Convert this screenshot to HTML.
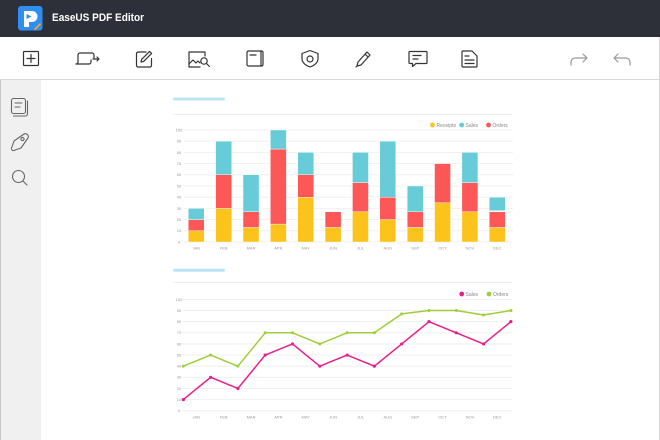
<!DOCTYPE html>
<html><head><meta charset="utf-8"><style>
html,body{margin:0;padding:0;width:660px;height:440px;overflow:hidden;background:#fff;}
svg{display:block;}
text{font-family:"Liberation Sans",sans-serif;}
</style></head><body>
<svg width="660" height="440" viewBox="0 0 660 440" xmlns="http://www.w3.org/2000/svg">
<!-- title bar -->
<rect x="0" y="0" width="660" height="37" fill="#2d3039"/>
<rect x="18" y="6" width="24.5" height="24.5" rx="3" fill="#2f8ef2"/>
<path d="M24 11 h8 a5.5 5.5 0 0 1 0 11 h-3 v5 h-5 z" fill="#fff"/>
<path d="M26.5 14 l5 2.5 l-5 2.5 z" fill="#2f8ef2"/>
<path d="M34 29 l6 -6 l1.2 1.2 l-6 6 z" fill="#f5a623"/>
<text x="52" y="21" font-size="11" font-weight="bold" fill="#fff" textLength="92" lengthAdjust="spacingAndGlyphs">EaseUS PDF Editor</text>
<!-- toolbar -->
<rect x="0" y="37" width="660" height="42" fill="#fff"/>
<line x1="0" y1="79.5" x2="660" y2="79.5" stroke="#d9d9d9" stroke-width="1"/>
<g fill="none" stroke="#333" stroke-width="1.2" stroke-linecap="round" stroke-linejoin="round">
 <rect x="23.5" y="51.5" width="15" height="14" rx="1"/>
 <path d="M31 54.5 v8 M27 58.5 h8"/>
 <path d="M80 53 h12 a2 2 0 0 1 2 2 v3 M80 53 a2 2 0 0 0 -2 2 v7 a2 2 0 0 1 -2 2 h13 a2 2 0 0 0 2 -2 v-2 M76 64 a2 2 0 0 0 2 -2"/>
 <path d="M93 59 h6 M97 57 l2 2 l-2 2"/>
 <path d="M146 52 h-8 a1.5 1.5 0 0 0 -1.5 1.5 v12 a1.5 1.5 0 0 0 1.5 1.5 h12 a1.5 1.5 0 0 0 1.5 -1.5 v-7"/>
 <path d="M141 62 l0.6 -2.6 l8 -8 l2 2 l-8 8 z"/>
 <path d="M205 56 v-4 h-16 v15 h11"/>
 <path d="M189 64 l4 -4 l3 3 l2 -2 l2 2"/>
 <circle cx="204" cy="61" r="3.2"/>
 <path d="M206.5 63.5 l3 3"/>
 <rect x="247" y="51" width="16" height="15" rx="1.5"/>
 <path d="M250 55 h6 M261 51 v15"/>
 <path d="M310 50.5 l8 3 v5 c0 4.5 -4 7 -8 8.5 c-4 -1.5 -8 -4 -8 -8.5 v-5 z"/>
 <circle cx="310" cy="59" r="3"/>
 <path d="M357 66 l1 -4 l9 -10 l3 3 l-9 10 z M365 54 l3 3 M357 66 l-1 1"/>
 <path d="M410 51.5 h16 a1 1 0 0 1 1 1 v10 a1 1 0 0 1 -1 1 h-10 l-3.5 3 v-3 h-2.5 a1 1 0 0 1 -1 -1 v-10 a1 1 0 0 1 1 -1 z"/>
 <path d="M413 55.5 h8 M413 59 h5"/>
 <path d="M463 51 h9 l5 5 v10 a1 1 0 0 1 -1 1 h-13 a1 1 0 0 1 -1 -1 v-14 a1 1 0 0 1 1 -1 z"/>
 <path d="M465 56 h4 M465 60 h9 M465 63.5 h9"/>
</g>
<g fill="none" stroke="#9a9a9a" stroke-width="1.2" stroke-linecap="round" stroke-linejoin="round">
 <path d="M571 65 v-3 a4 4 0 0 1 4 -4 h12 M583 54 l4 4 l-4 4"/>
 <path d="M630 65 v-3 a4 4 0 0 0 -4 -4 h-12 M618 54 l-4 4 l4 4"/>
</g>
<!-- sidebar -->
<rect x="0" y="80" width="41" height="360" fill="#f0f0f0"/>
<line x1="0.5" y1="80" x2="0.5" y2="440" stroke="#c8c8c8"/>
<line x1="659.5" y1="37" x2="659.5" y2="440" stroke="#d8d8d8"/>
<g fill="none" stroke="#666" stroke-width="1.1" stroke-linecap="round" stroke-linejoin="round">
 <rect x="11.5" y="98.5" width="14" height="15" rx="2"/>
 <path d="M27.5 101 v13 a2 2 0 0 1 -2 2 h-12"/>
 <path d="M15 103 h7 M15 107 h5"/>
 <path d="M12 147 l2 -6 l10 -7 a3 3 0 0 1 4 4 l-7 10 l-6 2 a2 2 0 0 1 -3 -3 z"/>
 <circle cx="22.5" cy="139" r="1.6"/>
 <circle cx="18.5" cy="176.5" r="6"/>
 <path d="M23 181 l4 4"/>
</g>
<!-- chart 1 -->
<rect x="173" y="97.5" width="52" height="3" rx="1.5" fill="#bde4f5"/>
<line x1="173" y1="114.5" x2="512" y2="114.5" stroke="#eeeeee"/>
<g stroke="#eeeeee" stroke-width="0.8">
 <line x1="184" y1="242" x2="513" y2="242"/>
 <line x1="184" y1="230.8" x2="513" y2="230.8"/>
 <line x1="184" y1="219.6" x2="513" y2="219.6"/>
 <line x1="184" y1="208.4" x2="513" y2="208.4"/>
 <line x1="184" y1="197.2" x2="513" y2="197.2"/>
 <line x1="184" y1="186" x2="513" y2="186"/>
 <line x1="184" y1="174.8" x2="513" y2="174.8"/>
 <line x1="184" y1="163.6" x2="513" y2="163.6"/>
 <line x1="184" y1="152.4" x2="513" y2="152.4"/>
 <line x1="184" y1="141.2" x2="513" y2="141.2"/>
 <line x1="184" y1="130" x2="513" y2="130"/>
</g>
<g font-size="4" fill="#999" text-anchor="middle">
 <text x="179" y="243.4">0</text>
 <text x="179" y="232.2">10</text>
 <text x="179" y="221">20</text>
 <text x="179" y="209.8">30</text>
 <text x="179" y="198.6">40</text>
 <text x="179" y="187.4">50</text>
 <text x="179" y="176.2">60</text>
 <text x="179" y="165">70</text>
 <text x="179" y="153.8">80</text>
 <text x="179" y="142.6">90</text>
 <text x="179" y="131.4">100</text>
</g>
<g stroke="#fff" stroke-width="0.4">
 <!-- JAN -->
 <rect x="188.3" y="230.8" width="16" height="11.2" fill="#fdc31d"/>
 <rect x="188.3" y="219.6" width="16" height="11.2" fill="#fd5757"/>
 <rect x="188.3" y="208.4" width="16" height="11.2" fill="#67ccd8"/>
 <!-- FEB -->
 <rect x="215.66" y="208.4" width="16" height="33.6" fill="#fdc31d"/>
 <rect x="215.66" y="174.8" width="16" height="33.6" fill="#fd5757"/>
 <rect x="215.66" y="141.2" width="16" height="33.6" fill="#67ccd8"/>
 <!-- MAR -->
 <rect x="243.02" y="227.44" width="16" height="14.56" fill="#fdc31d"/>
 <rect x="243.02" y="211.76" width="16" height="15.68" fill="#fd5757"/>
 <rect x="243.02" y="174.8" width="16" height="36.96" fill="#67ccd8"/>
 <!-- APR -->
 <rect x="270.38" y="224.08" width="16" height="17.92" fill="#fdc31d"/>
 <rect x="270.38" y="149.04" width="16" height="75.04" fill="#fd5757"/>
 <rect x="270.38" y="130" width="16" height="19.04" fill="#67ccd8"/>
 <!-- MAY -->
 <rect x="297.74" y="197.2" width="16" height="44.8" fill="#fdc31d"/>
 <rect x="297.74" y="174.8" width="16" height="22.4" fill="#fd5757"/>
 <rect x="297.74" y="152.4" width="16" height="22.4" fill="#67ccd8"/>
 <!-- JUN -->
 <rect x="325.1" y="227.44" width="16" height="14.56" fill="#fdc31d"/>
 <rect x="325.1" y="211.76" width="16" height="15.68" fill="#fd5757"/>
 <!-- JUL -->
 <rect x="352.46" y="211.76" width="16" height="30.24" fill="#fdc31d"/>
 <rect x="352.46" y="182.64" width="16" height="29.12" fill="#fd5757"/>
 <rect x="352.46" y="152.4" width="16" height="30.24" fill="#67ccd8"/>
 <!-- AUG -->
 <rect x="379.82" y="219.6" width="16" height="22.4" fill="#fdc31d"/>
 <rect x="379.82" y="197.2" width="16" height="22.4" fill="#fd5757"/>
 <rect x="379.82" y="141.2" width="16" height="56" fill="#67ccd8"/>
 <!-- SEP -->
 <rect x="407.18" y="227.44" width="16" height="14.56" fill="#fdc31d"/>
 <rect x="407.18" y="211.76" width="16" height="15.68" fill="#fd5757"/>
 <rect x="407.18" y="186" width="16" height="25.76" fill="#67ccd8"/>
 <!-- OCT -->
 <rect x="434.54" y="202.8" width="16" height="39.2" fill="#fdc31d"/>
 <rect x="434.54" y="163.6" width="16" height="39.2" fill="#fd5757"/>
 <!-- NOV -->
 <rect x="461.9" y="211.76" width="16" height="30.24" fill="#fdc31d"/>
 <rect x="461.9" y="182.64" width="16" height="29.12" fill="#fd5757"/>
 <rect x="461.9" y="152.4" width="16" height="30.24" fill="#67ccd8"/>
 <!-- DEC -->
 <rect x="489.26" y="227.44" width="16" height="14.56" fill="#fdc31d"/>
 <rect x="489.26" y="211.76" width="16" height="15.68" fill="#fd5757"/>
 <rect x="489.26" y="197.2" width="16" height="13.44" fill="#67ccd8"/>
</g>
<g font-size="4" fill="#999" text-anchor="middle">
 <text x="196.3" y="249.5">JAN</text>
 <text x="223.66" y="249.5">FEB</text>
 <text x="251.02" y="249.5">MAR</text>
 <text x="278.38" y="249.5">APR</text>
 <text x="305.74" y="249.5">MAY</text>
 <text x="333.1" y="249.5">JUN</text>
 <text x="360.46" y="249.5">JUL</text>
 <text x="387.82" y="249.5">AUG</text>
 <text x="415.18" y="249.5">SEP</text>
 <text x="442.54" y="249.5">OCT</text>
 <text x="469.9" y="249.5">NOV</text>
 <text x="497.26" y="249.5">DEC</text>
</g>
<circle cx="432.5" cy="125" r="2.4" fill="#fdc31d"/>
<circle cx="461.7" cy="125" r="2.4" fill="#67ccd8"/>
<circle cx="488.5" cy="125" r="2.4" fill="#fd5757"/>
<g font-size="5" fill="#888">
 <text x="436.5" y="126.8">Receipts</text>
 <text x="465.5" y="126.8">Sales</text>
 <text x="492.5" y="126.8">Orders</text>
</g>
<!-- chart 2 -->
<rect x="173" y="268.8" width="52" height="3" rx="1.5" fill="#bde4f5"/>
<line x1="173" y1="282.5" x2="512" y2="282.5" stroke="#eeeeee"/>
<g stroke="#eeeeee" stroke-width="0.8">
 <line x1="182" y1="410.7" x2="512" y2="410.7"/>
 <line x1="182" y1="399.57" x2="512" y2="399.57"/>
 <line x1="182" y1="388.44" x2="512" y2="388.44"/>
 <line x1="182" y1="377.31" x2="512" y2="377.31"/>
 <line x1="182" y1="366.18" x2="512" y2="366.18"/>
 <line x1="182" y1="355.05" x2="512" y2="355.05"/>
 <line x1="182" y1="343.92" x2="512" y2="343.92"/>
 <line x1="182" y1="332.79" x2="512" y2="332.79"/>
 <line x1="182" y1="321.66" x2="512" y2="321.66"/>
 <line x1="182" y1="310.53" x2="512" y2="310.53"/>
 <line x1="182" y1="299.4" x2="512" y2="299.4"/>
</g>
<g font-size="4" fill="#999" text-anchor="middle">
 <text x="179" y="412.1">0</text>
 <text x="179" y="401">10</text>
 <text x="179" y="389.8">20</text>
 <text x="179" y="378.7">30</text>
 <text x="179" y="367.6">40</text>
 <text x="179" y="356.4">50</text>
 <text x="179" y="345.3">60</text>
 <text x="179" y="334.2">70</text>
 <text x="179" y="323.1">80</text>
 <text x="179" y="311.9">90</text>
 <text x="179" y="300.8">100</text>
</g>
<polyline fill="none" stroke="#9fce3a" stroke-width="1.5" stroke-linejoin="round" points="183.3,366.18 210.6,355.05 237.9,366.18 265.2,332.79 292.5,332.79 319.8,343.92 347.1,332.79 374.4,332.79 401.7,313.87 429,310.53 456.3,310.53 483.6,314.98 510.9,310.53"/>
<polyline fill="none" stroke="#e91e8c" stroke-width="1.5" stroke-linejoin="round" points="183.3,399.57 210.6,377.31 237.9,388.44 265.2,355.05 292.5,343.92 319.8,366.18 347.1,355.05 374.4,366.18 401.7,343.92 429,321.66 456.3,332.79 483.6,343.92 510.9,321.66"/>
<g fill="#9fce3a">
 <circle cx="183.3" cy="366.18" r="1.5"/><circle cx="210.6" cy="355.05" r="1.5"/><circle cx="237.9" cy="366.18" r="1.5"/><circle cx="265.2" cy="332.79" r="1.5"/><circle cx="292.5" cy="332.79" r="1.5"/><circle cx="319.8" cy="343.92" r="1.5"/><circle cx="347.1" cy="332.79" r="1.5"/><circle cx="374.4" cy="332.79" r="1.5"/><circle cx="401.7" cy="313.87" r="1.5"/><circle cx="429" cy="310.53" r="1.5"/><circle cx="456.3" cy="310.53" r="1.5"/><circle cx="483.6" cy="314.98" r="1.5"/><circle cx="510.9" cy="310.53" r="1.5"/>
</g>
<g fill="#e91e8c">
 <circle cx="183.3" cy="399.57" r="1.6"/><circle cx="210.6" cy="377.31" r="1.6"/><circle cx="237.9" cy="388.44" r="1.6"/><circle cx="265.2" cy="355.05" r="1.6"/><circle cx="292.5" cy="343.92" r="1.6"/><circle cx="319.8" cy="366.18" r="1.6"/><circle cx="347.1" cy="355.05" r="1.6"/><circle cx="374.4" cy="366.18" r="1.6"/><circle cx="401.7" cy="343.92" r="1.6"/><circle cx="429" cy="321.66" r="1.6"/><circle cx="456.3" cy="332.79" r="1.6"/><circle cx="483.6" cy="343.92" r="1.6"/><circle cx="510.9" cy="321.66" r="1.6"/>
</g>
<g font-size="4" fill="#999" text-anchor="middle">
 <text x="196.3" y="418.3">JAN</text>
 <text x="223.66" y="418.3">FEB</text>
 <text x="251.02" y="418.3">MAR</text>
 <text x="278.38" y="418.3">APR</text>
 <text x="305.74" y="418.3">MAY</text>
 <text x="333.1" y="418.3">JUN</text>
 <text x="360.46" y="418.3">JUL</text>
 <text x="387.82" y="418.3">AUG</text>
 <text x="415.18" y="418.3">SEP</text>
 <text x="442.54" y="418.3">OCT</text>
 <text x="469.9" y="418.3">NOV</text>
 <text x="497.26" y="418.3">DEC</text>
</g>
<circle cx="461.7" cy="294" r="2.4" fill="#e91e8c"/>
<circle cx="489" cy="294" r="2.4" fill="#9fce3a"/>
<g font-size="5" fill="#888">
 <text x="465.5" y="295.8">Sales</text>
 <text x="493" y="295.8">Orders</text>
</g>
</svg>
</body></html>
